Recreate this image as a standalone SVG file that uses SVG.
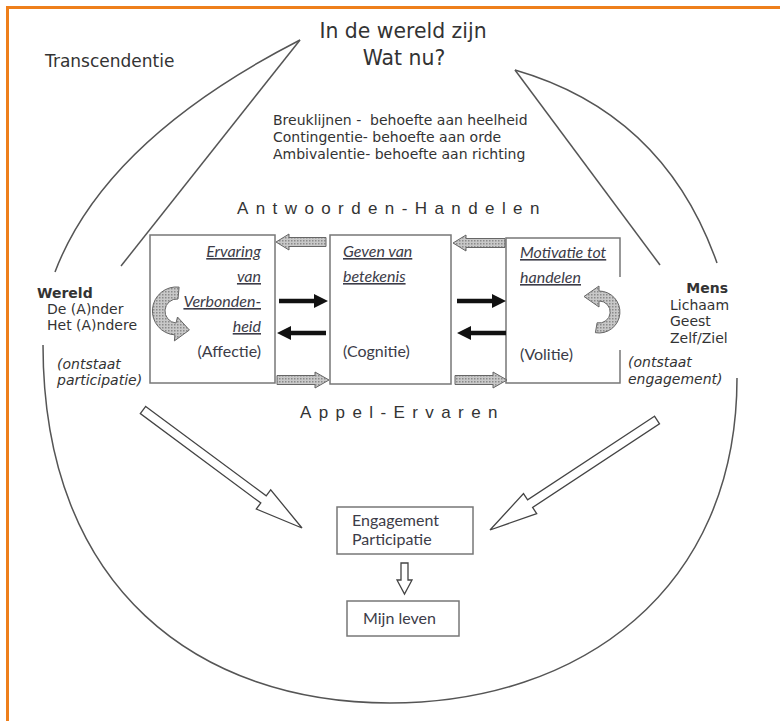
<svg xmlns="http://www.w3.org/2000/svg" width="780" height="721" viewBox="0 0 780 721">
<style>
.v{font-family:"DejaVu Sans",Verdana,sans-serif;fill:#333}
.c{font-family:Lato,"Open Sans",sans-serif;fill:#3c3c48;font-size:16px}
.u{font-style:italic;text-decoration:underline}
.sp{font-family:"Liberation Sans",Arial,sans-serif;font-size:17px;letter-spacing:7.4px;fill:#333}
.ln{fill:none;stroke:#555;stroke-width:1.5}
.box{fill:#fff;stroke:#777;stroke-width:1.5}
.hat{fill:url(#dots);stroke:#666;stroke-width:1}
.blk{fill:#111}
.hol{fill:#fff;stroke:#444;stroke-width:1.3}
</style>
<defs>
<pattern id="dots" width="3" height="3" patternUnits="userSpaceOnUse">
<rect width="3" height="3" fill="#c8c8c8"/>
<rect width="1.5" height="1.5" fill="#8a8a8a"/>
</pattern>
</defs>
<rect width="780" height="721" fill="#fff"/>
<rect x="7.5" y="7.5" width="900" height="900" fill="none" stroke="#EE7F1B" stroke-width="3"/>

<g id="outline">
<path class="ln" d="M300,40 Q105,140 55,272"/>
<path class="ln" d="M300,40 L121,266"/>
<path class="ln" d="M515,70 Q664,113 717,263"/>
<path class="ln" d="M515,70 L660,265"/>
<path class="ln" d="M43,345 C43,590 200,703 390,703 C580,703 737,590 737,378"/>
</g>

<g id="title">
<text class="v" x="403" y="38" font-size="20.4" text-anchor="middle">In de wereld zijn</text>
<text class="v" x="404" y="65" font-size="20.4" text-anchor="middle">Wat nu?</text>
</g>
<g id="transcendentie"><text class="v" x="45" y="67" font-size="17">Transcendentie</text></g>
<g id="behoeften">
<text class="v" x="273" y="125" font-size="14" xml:space="preserve">Breuklijnen -  behoefte aan heelheid</text>
<text class="v" x="273" y="142" font-size="14">Contingentie- behoefte aan orde</text>
<text class="v" x="273" y="159" font-size="14">Ambivalentie- behoefte aan richting</text>
</g>
<g id="antwoorden"><text class="sp" x="237" y="214">Antwoorden-Handelen</text></g>
<g id="appel"><text class="sp" x="300" y="418">Appel-Ervaren</text></g>

<g id="wereld">
<text class="v" x="37" y="298" font-size="14" font-weight="bold">Wereld</text>
<text class="v" x="47" y="314" font-size="14">De (A)nder</text>
<text class="v" x="47" y="330" font-size="14">Het (A)ndere</text>
<text class="v" x="57" y="369" font-size="14" font-style="italic">(ontstaat</text>
<text class="v" x="57" y="385" font-size="14" font-style="italic">participatie)</text>
</g>
<g id="mens">
<text class="v" x="728" y="293" font-size="14" font-weight="bold" text-anchor="end">Mens</text>
<text class="v" x="670" y="310" font-size="14">Lichaam</text>
<text class="v" x="670" y="326" font-size="14">Geest</text>
<text class="v" x="670" y="343" font-size="14">Zelf/Ziel</text>
<text class="v" x="628" y="367" font-size="14" font-style="italic">(ontstaat</text>
<text class="v" x="628" y="384" font-size="14" font-style="italic">engagement)</text>
</g>

<g id="affectie">
<rect class="box" x="150" y="235" width="125" height="148"/>
<text class="c u" x="261" y="257" text-anchor="end">Ervaring</text>
<text class="c u" x="261" y="282" text-anchor="end">van</text>
<text class="c u" x="261" y="307" text-anchor="end">Verbonden-</text>
<text class="c u" x="261" y="332" text-anchor="end">heid</text>
<text class="c" x="261" y="357" text-anchor="end">(Affectie)</text>
<path class="hat" d="M179.1,287.1 A24,24 0 1 0 174.9,334.9 L174.4,340.9 L189.4,330 L177.5,317 L176,323 A12,12 0 1 1 178,299 Z"/>
</g>
<g id="cognitie">
<rect class="box" x="330" y="235" width="121" height="149"/>
<text class="c u" x="343" y="257">Geven van</text>
<text class="c u" x="343" y="282">betekenis</text>
<text class="c" x="343" y="357">(Cognitie)</text>
</g>
<g id="volitie">
<rect x="506" y="238" width="114" height="145" fill="#fff"/>
<path fill="none" stroke="#777" stroke-width="1.5" d="M620,277 V238 H506 V383 H620 V350"/>
<text class="c u" x="520" y="258">Motivatie tot</text>
<text class="c u" x="520" y="283">handelen</text>
<text class="c" x="520" y="360">(Volitie)</text>
<path class="hat" d="M595.4,332.7 A21,21 0 1 0 599,291 L599,286 L584,296.5 L599,307 L599,301 A11,11 0 1 1 597.1,322.8 Z"/>
</g>

<g id="engagement">
<rect class="box" x="337" y="507" width="136" height="47"/>
<text class="c" x="352" y="526" font-size="15">Engagement</text>
<text class="c" x="352" y="545" font-size="15">Participatie</text>
</g>
<g id="leven">
<rect class="box" x="347" y="601" width="112" height="35"/>
<text class="c" x="363" y="624">Mijn leven</text>
</g>

<g id="connectors">
<path class="hat" d="M276,242 L289,234 L289,237.5 L326,237.5 L326,246.5 L289,246.5 L289,250 Z"/>
<path class="hat" d="M453,243 L466,235 L466,238.5 L505,238.5 L505,247.5 L466,247.5 L466,251 Z"/>
<path class="hat" d="M329,380 L315,372 L315,375.5 L277,375.5 L277,384.5 L315,384.5 L315,388 Z"/>
<path class="hat" d="M507,380 L493,372 L493,375.5 L455,375.5 L455,384.5 L493,384.5 L493,388 Z"/>
<path class="blk" d="M328,301 L314,294 L314,298.8 L279,298.8 L279,303.2 L314,303.2 L314,308 Z"/>
<path class="blk" d="M277,333 L291,326 L291,330.8 L326,330.8 L326,335.2 L291,335.2 L291,340 Z"/>
<path class="blk" d="M506,301 L492,294 L492,298.8 L457,298.8 L457,303.2 L492,303.2 L492,308 Z"/>
<path class="blk" d="M457,333 L471,326 L471,330.8 L506,330.8 L506,335.2 L471,335.2 L471,340 Z"/>
<path class="hol" d="M145.7,406.4 L266.2,495.8 L270.7,489.8 L302,528 L256.3,509 L260.8,503 L140.3,413.6 Z"/>
<path class="hol" d="M654.5,416.2 L527.6,499.8 L523.5,493.6 L490,530 L536.7,513.6 L532.6,507.4 L659.5,423.8 Z"/>
<path class="hol" d="M401,563 H408 V580 H412 L404.5,594 L397,580 H401 Z"/>
</g>
</svg>
